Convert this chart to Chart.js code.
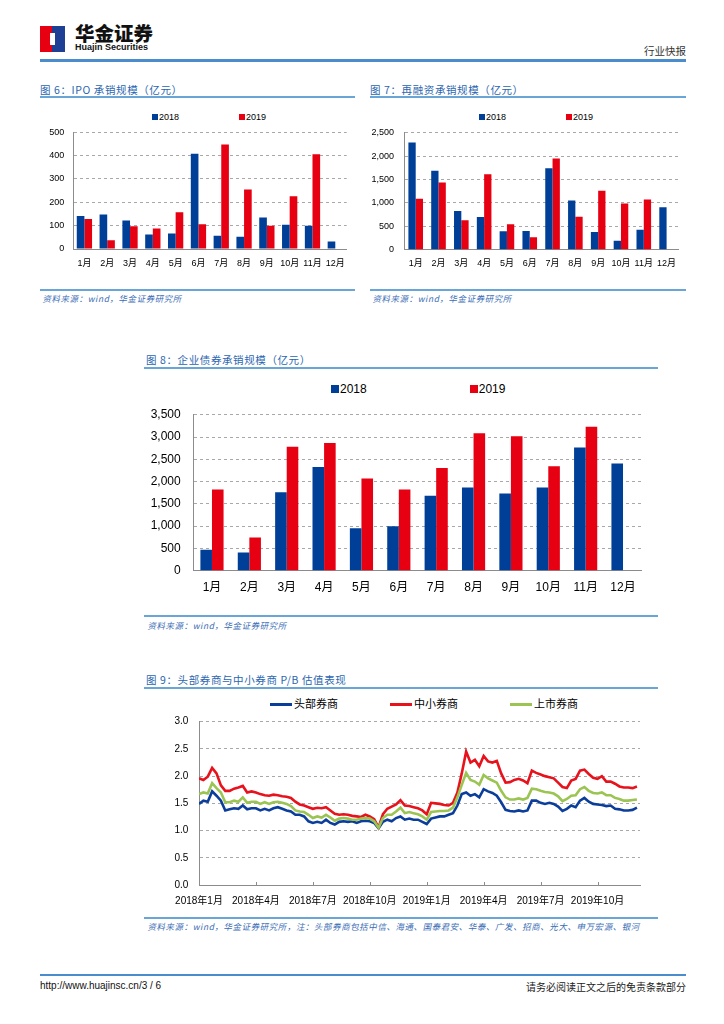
<!DOCTYPE html>
<html><head><meta charset="utf-8">
<script src="https://cdn.jsdelivr.net/npm/chart.js@4.4.0/dist/chart.umd.min.js"></script>
<style>
html,body{margin:0;padding:0;background:#fff;}
body{width:724px;height:1024px;position:relative;overflow:hidden;font-family:"Liberation Sans","Noto Sans CJK SC",sans-serif;}
.a{position:absolute;}
.title{position:absolute;font-family:"Noto Sans CJK SC",sans-serif;font-size:10.5px;color:#2b66b0;white-space:nowrap;letter-spacing:0.6px;}
.rule{position:absolute;height:1.5px;background:#6aa5d8;}
.src{position:absolute;font-family:"Noto Sans CJK SC",sans-serif;font-size:8.5px;color:#3a6db5;white-space:nowrap;transform:skewX(-12deg);transform-origin:left bottom;letter-spacing:0.55px;}
.leg{position:absolute;white-space:nowrap;color:#000;}
.sq{display:inline-block;vertical-align:middle;}
.box{position:absolute;}
</style></head>
<body>
<!-- header -->
<div class="a" style="left:40px;top:26px;width:12px;height:26px;background:#e60012;"></div>
<div class="a" style="left:52px;top:26px;width:13px;height:26px;background:#1d3f94;"></div>
<div class="a" style="left:50px;top:33px;width:5px;height:12px;background:#fff;"></div>
<div class="a" style="left:75px;top:22px;font-family:'Noto Sans CJK SC';font-weight:900;font-size:19.5px;color:#111;line-height:22px;">华金证券</div>
<div class="a" style="left:75px;top:42px;font-family:'Liberation Sans';font-weight:bold;font-size:9px;color:#111;line-height:10px;">Huajin Securities</div>
<div class="a" style="right:38px;top:45px;font-family:'Noto Sans CJK SC';font-size:10.5px;color:#333;line-height:12px;">行业快报</div>
<div class="rule" style="left:40px;top:59px;width:646px;height:2.5px;background:#4b8dcc;"></div>

<!-- fig 6 -->
<div class="title" style="left:40px;top:82px;">图 6：IPO 承销规模（亿元）</div>
<div class="rule" style="left:40px;top:96px;width:315px;"></div>
<div class="leg" id="leg6" style="left:152px;top:112px;font-size:9px;line-height:10px;"></div>
<div class="box" style="left:30px;top:118px;width:330px;height:160px;"><canvas id="c6"></canvas></div>
<div class="rule" style="left:40px;top:289px;width:315px;"></div>
<div class="src" style="left:42px;top:292px;">资料来源：wind，华金证券研究所</div>

<!-- fig 7 -->
<div class="title" style="left:370px;top:82px;">图 7：再融资承销规模（亿元）</div>
<div class="rule" style="left:370px;top:96px;width:316px;"></div>
<div class="leg" id="leg7" style="left:479px;top:112px;font-size:9px;line-height:10px;"></div>
<div class="box" style="left:360px;top:117px;width:330px;height:160px;"><canvas id="c7"></canvas></div>
<div class="rule" style="left:370px;top:289px;width:316px;"></div>
<div class="src" style="left:372px;top:292px;">资料来源：wind，华金证券研究所</div>

<!-- fig 8 -->
<div class="title" style="left:146px;top:352px;">图 8：企业债券承销规模（亿元）</div>
<div class="rule" style="left:144px;top:367px;width:514px;"></div>
<div class="leg" id="leg8" style="left:331px;top:382px;font-size:12px;line-height:14px;"></div>
<div class="box" style="left:140px;top:395px;width:515px;height:206px;"><canvas id="c8"></canvas></div>
<div class="rule" style="left:144px;top:615px;width:514px;"></div>
<div class="src" style="left:147px;top:619px;">资料来源：wind，华金证券研究所</div>

<!-- fig 9 -->
<div class="title" style="left:146px;top:672px;">图 9：头部券商与中小券商 P/B 估值表现</div>
<div class="rule" style="left:144px;top:687px;width:514px;"></div>
<div class="leg" id="leg9" style="left:270px;top:696px;font-family:'Noto Sans CJK SC';font-size:11px;line-height:14px;"></div>
<div class="box" style="left:140px;top:705px;width:515px;height:210px;"><canvas id="c9"></canvas></div>
<div class="rule" style="left:144px;top:917px;width:514px;"></div>
<div class="src" style="left:147px;top:920px;">资料来源：wind，华金证券研究所，注：头部券商包括中信、海通、国泰君安、华泰、广发、招商、光大、申万宏源、银河</div>

<!-- footer -->
<div class="rule" style="left:40px;top:974px;width:646px;height:2px;background:#4b8dcc;"></div>
<div class="a" style="left:40px;top:980px;font-family:'Liberation Sans';font-size:10px;color:#111;">http://www.huajinsc.cn/3 / 6</div>
<div class="a" style="right:38px;top:979px;font-family:'Noto Sans CJK SC';font-size:10px;color:#222;">请务必阅读正文之后的免责条款部分</div>

<script>
// ---------- data ----------
const months = ['1月','2月','3月','4月','5月','6月','7月','8月','9月','10月','11月','12月'];
const seriesNames = ['2018','2019'];

const ipo2018 = [141,148,122,62,66,407,57,52,135,104,99,32];
const ipo2019 = [128,37,97,88,157,106,447,255,99,226,405,null];

const refi2018 = [2290,1687,827,698,393,400,1741,1050,379,190,427,908];
const refi2019 = [1091,1436,630,1612,542,264,1951,705,1260,989,1070,null];

const bond2018 = [470,407,1760,2329,954,996,1683,1866,1733,1866,2764,2406];
const bond2019 = [1824,744,2785,2869,2069,1824,2308,3086,3016,2343,3234,null];

const pbNames = ['头部券商','中小券商','上市券商'];
const pbQuarterLabels = ['2018年1月','2018年4月','2018年7月','2018年10月','2019年1月','2019年4月','2019年7月','2019年10月'];
// weekly readings, week 0 = first week of Jan 2018
const pbHead = [1.49,1.55,1.53,1.72,1.64,1.55,1.37,1.39,1.41,1.40,
 1.46,1.39,1.41,1.41,1.37,1.40,1.37,1.41,1.43,1.40,
 1.37,1.35,1.29,1.29,1.26,1.17,1.14,1.16,1.14,1.20,
 1.14,1.11,1.16,1.17,1.16,1.17,1.14,1.17,1.18,1.17,
 1.14,1.04,1.16,1.20,1.17,1.23,1.26,1.20,1.22,1.20,
 1.20,1.16,1.12,1.22,1.24,1.26,1.26,1.29,1.32,1.46,
 1.67,1.70,1.64,1.67,1.61,1.76,1.72,1.69,1.64,1.52,
 1.38,1.36,1.35,1.37,1.35,1.37,1.55,1.55,1.51,1.49,
 1.51,1.49,1.44,1.36,1.40,1.46,1.43,1.55,1.60,1.53,
 1.49,1.48,1.47,1.45,1.46,1.40,1.39,1.37,1.37,1.38,
 1.42];
const pbSmall = [1.96,1.93,1.99,2.15,2.05,1.83,1.73,1.73,1.77,1.79,
 1.82,1.70,1.72,1.70,1.67,1.65,1.64,1.66,1.65,1.63,
 1.62,1.60,1.53,1.48,1.46,1.43,1.40,1.42,1.41,1.43,
 1.37,1.31,1.29,1.30,1.29,1.27,1.26,1.25,1.29,1.26,
 1.21,1.06,1.30,1.40,1.44,1.48,1.56,1.46,1.45,1.43,
 1.41,1.37,1.30,1.51,1.50,1.49,1.47,1.46,1.51,1.70,
 2.05,2.45,2.25,2.30,2.18,2.37,2.27,2.25,2.28,2.05,
 1.88,1.89,1.93,1.95,1.92,1.87,2.10,2.06,2.03,2.00,
 1.98,1.96,1.88,1.80,1.78,1.92,1.95,2.10,2.12,2.04,
 1.97,1.95,2.00,1.90,1.90,1.86,1.81,1.79,1.79,1.78,
 1.81];
const pbListed = [1.67,1.70,1.68,1.87,1.78,1.70,1.52,1.52,1.55,1.53,
 1.61,1.51,1.53,1.53,1.49,1.52,1.49,1.52,1.53,1.51,
 1.49,1.45,1.37,1.35,1.34,1.29,1.23,1.26,1.24,1.29,
 1.24,1.18,1.22,1.23,1.22,1.20,1.20,1.22,1.23,1.22,
 1.17,1.05,1.23,1.29,1.29,1.35,1.42,1.32,1.34,1.32,
 1.30,1.26,1.20,1.34,1.35,1.36,1.36,1.37,1.42,1.61,
 1.84,2.06,1.93,1.90,1.84,2.02,1.96,1.92,1.88,1.73,
 1.61,1.57,1.57,1.59,1.57,1.60,1.77,1.76,1.73,1.71,
 1.70,1.68,1.63,1.54,1.58,1.64,1.65,1.76,1.80,1.73,
 1.69,1.68,1.70,1.65,1.65,1.60,1.58,1.55,1.55,1.56,
 1.57];

// ---------- styles ----------
const BLUE = '#003f98', RED = '#e60012';
const LBLUE = '#0b3e9b', LRED = '#e8121c', LGREEN = '#9bc453';
const AXIS = '#8c8c8c', GRID = '#a8a8a8';
const FONT = '"Liberation Sans","Noto Sans CJK SC",sans-serif';

Chart.defaults.font.family = FONT;
Chart.defaults.color = '#000';

function legendBars(id, size, gap) {
  const el = document.getElementById(id);
  const cols = [BLUE, RED];
  el.innerHTML = seriesNames.map((n, i) =>
    `<span style="display:inline-block;margin-right:${i===0?gap:0}px;"><span class="sq" style="width:${size}px;height:${size}px;background:${cols[i]};margin-right:1px;position:relative;top:-1px;"></span>${n}</span>`
  ).join('');
}
legendBars('leg6', 6, 60);
legendBars('leg7', 6, 60);
legendBars('leg8', 8, 103);

(function () {
  const el = document.getElementById('leg9');
  const cols = [LBLUE, LRED, LGREEN];
  const gaps = [52, 52, 0];
  el.innerHTML = pbNames.map((n, i) =>
    `<span style="display:inline-block;margin-right:${gaps[i]}px;"><span class="sq" style="width:22px;height:3px;background:${cols[i]};margin-right:2px;position:relative;top:-1px;"></span>${n}</span>`
  ).join('');
})();

function makeBar(id, a, b, c) {
  new Chart(document.getElementById(id), {
    type: 'bar',
    data: {
      labels: months,
      datasets: [
        { label: seriesNames[0], data: a, backgroundColor: BLUE, categoryPercentage: c.cat, barPercentage: 1 },
        { label: seriesNames[1], data: b, backgroundColor: RED, categoryPercentage: c.cat, barPercentage: 1 }
      ]
    },
    options: {
      responsive: true, maintainAspectRatio: false, animation: false,
      layout: { padding: { top: c.pt, right: c.pr, left: 0, bottom: 0 } },
      plugins: { legend: { display: false }, tooltip: { enabled: false } },
      scales: {
        x: {
          grid: { display: false, drawTicks: false },
          border: { color: AXIS, width: 1 },
          ticks: { font: { size: c.fs }, color: '#000', padding: c.xpad, maxRotation: 0, autoSkip: false },
          afterFit: s => { s.height = c.xh; }
        },
        y: {
          min: 0, max: c.max,
          grid: { color: GRID, drawTicks: false, lineWidth: 1 },
          border: { color: AXIS, width: 1, dash: [3, 3] },
          ticks: { stepSize: c.step, font: { size: c.fs }, color: '#000', padding: c.ypad,
                   callback: v => v.toLocaleString('en-US') },
          afterFit: s => { s.width = c.yw; }
        }
      }
    }
  });
}

makeBar('c6', ipo2018, ipo2019, { cat: 0.67, pt: 10.3, pr: 13.3, fs: 9, xpad: 9, xh: 29, max: 500, step: 100, ypad: 8.7, yw: 43 });
makeBar('c7', refi2018, refi2019, { cat: 0.64, pt: 9.7, pr: 12, fs: 9, xpad: 8.5, xh: 27.3, max: 2500, step: 500, ypad: 10.3, yw: 44.3 });
makeBar('c8', bond2018, bond2019, { cat: 0.62, pt: 9.3, pr: 13.3, fs: 12, xpad: 10, xh: 30.3, max: 3500, step: 500, ypad: 12.6, yw: 53.3 });

const innerTicks = {
  id: 'innerTicks',
  afterDraw(chart) {
    const x = chart.scales.x, ctx = chart.ctx;
    ctx.save();
    ctx.strokeStyle = AXIS; ctx.lineWidth = 1;
    x.ticks.forEach(t => {
      const px = Math.round(x.getPixelForValue(t.value)) + 0.5;
      ctx.beginPath(); ctx.moveTo(px, x.top); ctx.lineTo(px, x.top - 3); ctx.stroke();
    });
    ctx.restore();
  }
};

new Chart(document.getElementById('c9'), {
  type: 'line',
  data: {
    labels: pbHead.map((_, i) => i),
    datasets: [
      { label: pbNames[0], data: pbHead, borderColor: LBLUE, borderWidth: 2.6, pointRadius: 0, tension: 0, order: 2 },
      { label: pbNames[1], data: pbSmall, borderColor: LRED, borderWidth: 2.6, pointRadius: 0, tension: 0, order: 1 },
      { label: pbNames[2], data: pbListed, borderColor: LGREEN, borderWidth: 2.6, pointRadius: 0, tension: 0, order: 0 }
    ]
  },
  options: {
    responsive: true, maintainAspectRatio: false, animation: false,
    layout: { padding: { top: 9, right: 15, left: 0, bottom: 0 } },
    plugins: { legend: { display: false }, tooltip: { enabled: false } },
    scales: {
      x: {
        type: 'linear', min: 0, max: 100.7,
        afterBuildTicks: s => { s.ticks = pbQuarterLabels.map((_, i) => ({ value: i * 13 })); },
        grid: { display: false, drawTicks: false },
        border: { color: AXIS, width: 1 },
        ticks: { font: { size: 10 }, color: '#000', padding: 10, maxRotation: 0, autoSkip: false,
                 callback: v => pbQuarterLabels[Math.round(v / 13)] },
        afterFit: s => { s.height = 30; }
      },
      y: {
        min: 0, max: 3,
        grid: { color: GRID, drawTicks: false },
        border: { color: AXIS, width: 1, dash: [3, 3] },
        ticks: { stepSize: 0.5, font: { size: 10 }, color: '#000', padding: 10.7, callback: v => v.toFixed(1) },
        afterFit: s => { s.width = 59; }
      }
    }
  },
  plugins: [innerTicks]
});
</script>
</body></html>
